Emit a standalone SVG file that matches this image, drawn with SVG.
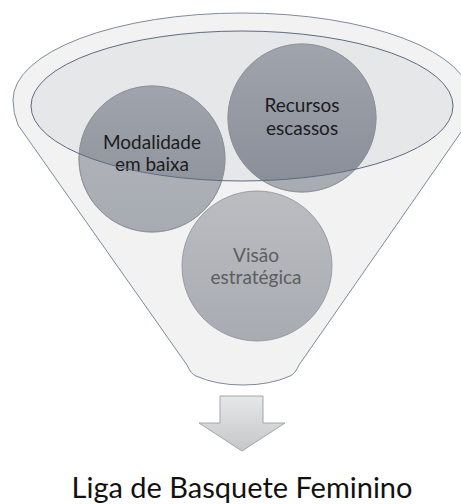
<svg xmlns="http://www.w3.org/2000/svg" width="461" height="504" viewBox="0 0 461 504">
<style>
.lbl{font-family:Lato,"Liberation Sans",sans-serif;font-size:19px;text-anchor:middle;fill:#1c1c1c}
.lbl2{font-family:Lato,"Liberation Sans",sans-serif;font-size:19px;text-anchor:middle;fill:#5e5e5e}
.title{font-family:Lato,"Liberation Sans",sans-serif;font-size:29px;text-anchor:middle;fill:#111}
.circ{stroke:#8c8f95;stroke-width:0.8}
</style>
<defs>
<linearGradient id="gOut" x1="0" y1="0" x2="0" y2="1">
<stop offset="0" stop-color="#b4b7bd"/><stop offset="1" stop-color="#a7abb2"/>
</linearGradient>
<linearGradient id="gIn" x1="0" y1="0" x2="0" y2="1">
<stop offset="0" stop-color="#a0a4ad"/><stop offset="1" stop-color="#888d97"/>
</linearGradient>
<linearGradient id="gV" x1="0" y1="0" x2="0" y2="1">
<stop offset="0" stop-color="#bbbdc1"/><stop offset="1" stop-color="#a8abb2"/>
</linearGradient>
<linearGradient id="gA" x1="0" y1="0" x2="0" y2="1">
<stop offset="0" stop-color="#e6e7e8"/><stop offset="1" stop-color="#c6c7c9"/>
</linearGradient>
<clipPath id="clipEll"><ellipse cx="242" cy="106" rx="211" ry="75"/></clipPath>
</defs>
<g id="funnel">
<path d="M18,125 Q13,113 13,100 A229,87 0 0 1 471,100 Q471,113 466,125 L299,365 Q295,374 290,376 Q270,385 243,385 Q216,385 196,376 Q191,374 187,365 Z" fill="#f2f2f2" stroke="#7f8a9c" stroke-width="1"/>
<ellipse cx="242" cy="106" rx="211" ry="75" fill="#e6e7e9"/>
</g>
<g id="node-visao">
<circle class="circ" cx="257" cy="266" r="75" fill="url(#gV)"/>
<text class="lbl2" x="256" y="262">Visão</text>
<text class="lbl2" x="256" y="284">estratégica</text>
</g>
<g id="node-modalidade">
<circle class="circ" cx="152" cy="159" r="73" fill="url(#gOut)"/>
<circle cx="152" cy="159" r="73" fill="url(#gIn)" clip-path="url(#clipEll)"/>
<circle cx="152" cy="159" r="73" fill="none" class="circ"/>
<text class="lbl" x="152" y="149">Modalidade</text>
<text class="lbl" x="152" y="171">em baixa</text>
</g>
<g id="node-recursos">
<circle class="circ" cx="302" cy="118" r="74" fill="url(#gOut)"/>
<circle cx="302" cy="118" r="74" fill="url(#gIn)" clip-path="url(#clipEll)"/>
<circle cx="302" cy="118" r="74" fill="none" class="circ"/>
<text class="lbl" x="302" y="112">Recursos</text>
<text class="lbl" x="302" y="135">escassos</text>
</g>
<g id="funnel-rim">
<ellipse cx="242" cy="106" rx="211" ry="75" fill="none" stroke="#5f6b80" stroke-width="1"/>
</g>
<g id="connectors">
<path d="M220,396 L263,396 L263,423 L285,423 L242,451 L199,423 L220,423 Z" fill="url(#gA)" stroke="#a3a5a8" stroke-width="1"/>
</g>
<g id="node-result">
<text class="title" x="242" y="498">Liga de Basquete Feminino</text>
</g>
</svg>
